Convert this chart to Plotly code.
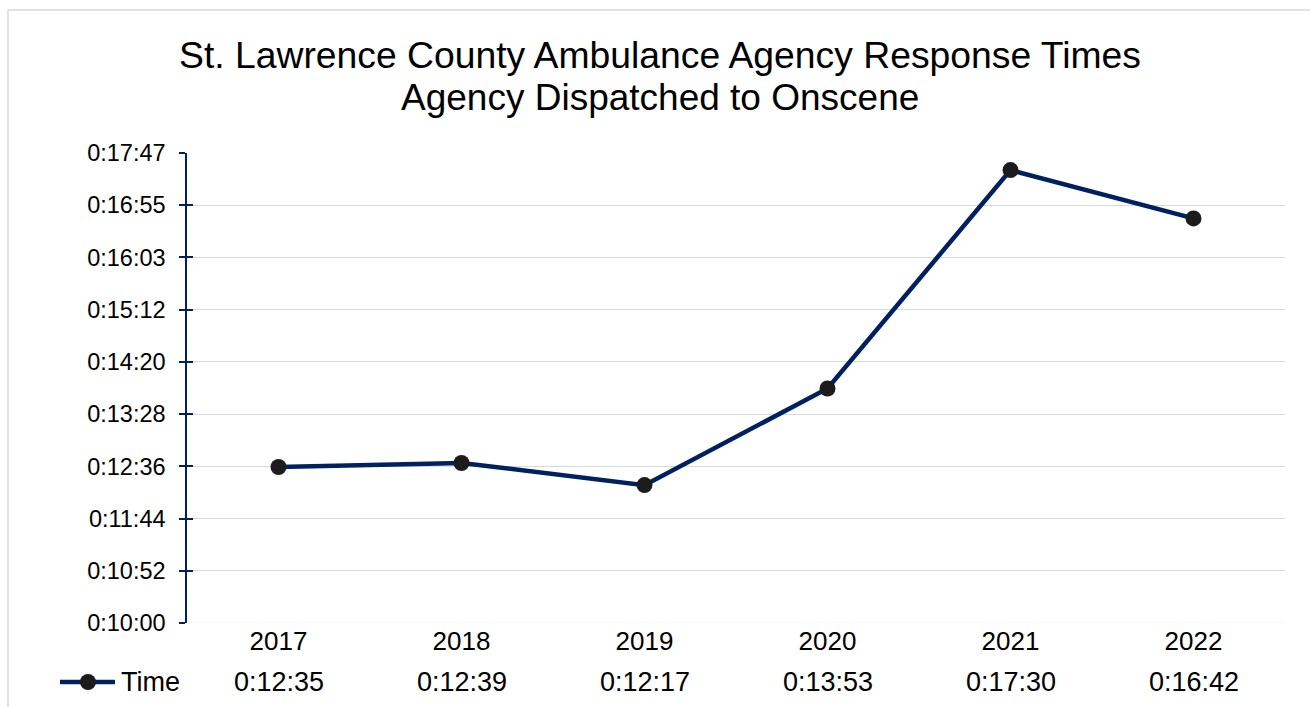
import plotly.graph_objects as go

years = ["2017", "2018", "2019", "2020", "2021", "2022"]
times = ["0:12:35", "0:12:39", "0:12:17", "0:13:53", "0:17:30", "0:16:42"]
y_tick_labels = ["0:10:00", "0:10:52", "0:11:44", "0:12:36", "0:13:28",
                 "0:14:20", "0:15:12", "0:16:03", "0:16:55", "0:17:47"]
series_name = "Time"
title_lines = ["St. Lawrence County Ambulance Agency Response Times",
               "Agency Dispatched to Onscene"]


def to_sec(s):
    h, m, sec = s.split(":")
    return int(h) * 3600 + int(m) * 60 + int(sec)


secs = [to_sec(t) for t in times]
y_min = to_sec(y_tick_labels[0])
y_max = to_sec(y_tick_labels[-1])
n = len(y_tick_labels) - 1
tickvals = [y_min + i * (y_max - y_min) / n for i in range(n + 1)]

FONT = "Liberation Sans, Arial, sans-serif"
NAVY = "#002060"
MARK = "#1c1c1c"

W, H = 1310, 707
L, R, T, B = 187, 25, 153, 84
pw, ph = W - L - R, H - T - B


def px_x(p):
    return (p - L) / pw


def px_y(p):
    return (T + ph - p) / ph


fig = go.Figure()
fig.add_trace(go.Scatter(
    x=years, y=secs, name=series_name, mode="lines+markers",
    line=dict(color=NAVY, width=4.5),
    marker=dict(color=MARK, size=16, line=dict(width=0)),
    hoverinfo="skip", showlegend=False,
))
# invisible trace to activate an overlay axis for crossing ticks
fig.add_trace(go.Scatter(x=years, y=secs, yaxis="y2", mode="lines",
                         line=dict(width=0), showlegend=False, hoverinfo="skip",
                         opacity=0))

# data table row (values under the years)
for i, t in enumerate(times):
    fig.add_annotation(x=i, y=px_y(682), xref="x", yref="paper",
                       text=t, showarrow=False, yanchor="middle",
                       font=dict(size=27, color="#000", family=FONT))

# legend key drawn like the spreadsheet data-table key
fig.add_shape(type="line", xref="paper", yref="paper",
              x0=px_x(60), x1=px_x(115), y0=px_y(682), y1=px_y(682),
              line=dict(color=NAVY, width=4.5))
fig.add_shape(type="circle", xref="paper", yref="paper",
              x0=px_x(80), x1=px_x(96), y0=px_y(690), y1=px_y(674),
              line=dict(width=0), fillcolor=MARK)
fig.add_annotation(x=px_x(119), y=px_y(682), xref="paper", yref="paper",
                   text=series_name, showarrow=False, xanchor="left",
                   yanchor="middle", font=dict(size=27, color="#000", family=FONT))

# faint baseline gridline
fig.add_shape(type="line", xref="paper", yref="y", x0=0, x1=1,
              y0=y_min, y1=y_min, line=dict(color="#eeeeee", width=1),
              layer="below")

# outer chart border
fig.add_shape(type="rect", xref="paper", yref="paper",
              x0=px_x(8), x1=px_x(1320), y0=px_y(720), y1=px_y(10),
              line=dict(color="#d9d9d9", width=1.5), fillcolor="rgba(0,0,0,0)",
              layer="below")

# second title line
fig.add_annotation(x=px_x(660), y=px_y(97), xref="paper", yref="paper",
                   text=title_lines[1], showarrow=False, xanchor="center",
                   yanchor="middle", font=dict(size=37, color="#000", family=FONT))

fig.update_layout(
    width=W, height=H,
    margin=dict(l=L, r=R, t=T, b=B, autoexpand=False),
    paper_bgcolor="white", plot_bgcolor="white",
    font=dict(family=FONT, color="#000"),
    title=dict(text=title_lines[0], x=660 / W, xanchor="center",
               y=1 - 55 / H, yanchor="middle",
               font=dict(size=37.3, color="#000", family=FONT)),
    showlegend=False,
    xaxis=dict(type="category", range=[-0.5, len(years) - 0.5],
               showgrid=False, showline=False, ticks="",
               tickfont=dict(size=26, color="#000"), zeroline=False),
    yaxis=dict(range=[y_min, y_max], tickvals=tickvals, ticktext=y_tick_labels,
               showgrid=True, gridcolor="#d9d9d9", gridwidth=1,
               showline=True, linecolor=NAVY, linewidth=1.5,
               ticks="outside", ticklen=6, tickcolor=NAVY, tickwidth=1.5,
               tickfont=dict(size=23.5, color="#000"), zeroline=False,
               ticklabelstandoff=9),
    yaxis2=dict(range=[y_min, y_max], tickvals=tickvals, overlaying="y",
                side="left", showgrid=False, showline=False, ticks="inside",
                ticklen=6, tickcolor=NAVY, tickwidth=1.5, showticklabels=False,
                zeroline=False),
)

fig.write_html("out.html", config={"displayModeBar": False},
               post_script="document.body.style.margin='0';")
